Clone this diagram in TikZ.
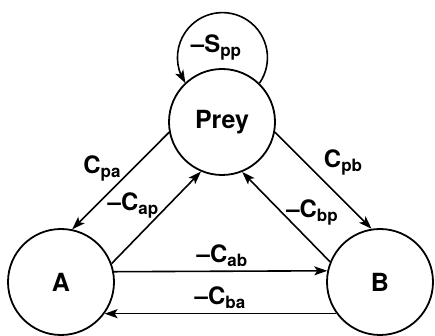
\documentclass[tikz,border=0pt]{standalone}
\usepackage{fontspec}
\setmainfont{TeX Gyre Heros}
\usetikzlibrary{arrows.meta,bending}
\newcommand{\sublbl}[2]{#1\raisebox{-4pt}{\fontsize{17}{17}\selectfont #2}}
\begin{document}
\begin{tikzpicture}[x=1pt,y=1pt,
  state/.style={circle,draw,line width=1.8pt,minimum size=106pt,inner sep=0pt,font=\fontsize{25}{25}\selectfont\bfseries},
  conn/.style={line width=1.6pt,-{Stealth[length=13pt,width=9pt,inset=3pt,flex]}},
  lbl/.style={font=\fontsize{24}{24}\selectfont\bfseries,inner sep=0pt}]
\useasboundingbox (0,0) rectangle (435,336);
\node[state] (P) at (222,214) {Prey};
\node[state] (A) at (61,54) {A};
\node[state] (B) at (380,54) {B};
% self loop
\draw[conn] (P.46.8) arc[start angle=-34.7, end angle=214.7, radius=45];
% Prey <-> A
\draw[conn] (P.191.5) -- (A.78);
\draw[conn] (A.20) -- (P.247);
% Prey <-> B
\draw[conn] (P.-11.5) -- (B.99);
\draw[conn] (B.158) -- (P.292);
% A <-> B
\draw[conn] (A.11.75) -- (B.168.25);
\draw[conn] (B.216.3) -- (A.-36.3);
% labels
\node[lbl] (lspp) at (216,289) {\sublbl{–S}{pp}};
\node[lbl] (lcpa) at (102,168) {\sublbl{C}{pa}};
\node[lbl] (lcpb) at (343,174) {\sublbl{C}{pb}};
\node[lbl] (lcap) at (133,131) {\sublbl{–C}{ap}};
\node[lbl] (lcbp) at (312,124) {\sublbl{–C}{bp}};
\node[lbl] (lcab) at (222,80) {\sublbl{–C}{ab}};
\node[lbl] (lcba) at (220,38) {\sublbl{–C}{ba}};
\end{tikzpicture}
\end{document}
